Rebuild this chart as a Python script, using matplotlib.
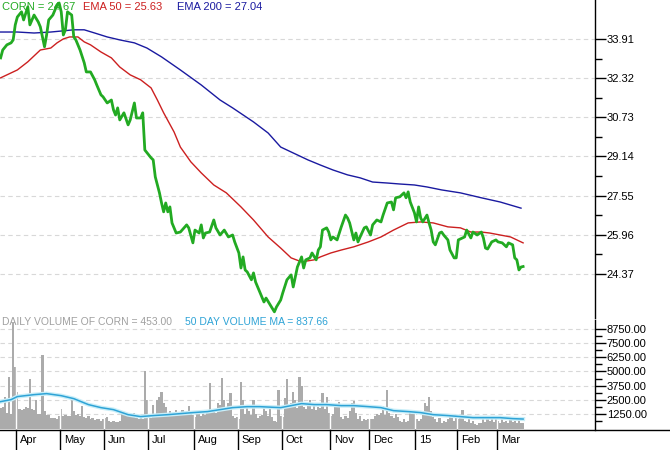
import numpy as np
import pandas as pd
import matplotlib
matplotlib.use('Agg')
import matplotlib.pyplot as plt
import matplotlib.transforms as mtrans
from matplotlib.lines import Line2D

plt.rcParams['font.family'] = ['Liberation Sans', 'DejaVu Sans']

# ---------------- data ----------------
holidays = ['2014-04-18', '2014-05-26', '2014-07-04', '2014-09-01', '2014-11-27',
            '2014-12-25', '2015-01-01', '2015-01-19', '2015-02-16']

price_day = [0, 1, 3, 5, 6, 7, 8, 10, 11, 13, 14, 16, 18, 19, 21, 22, 23, 25, 27, 28, 29, 30, 31, 32,
             34, 35, 36, 38, 40, 41, 43, 45, 46, 48, 49, 51, 53, 54, 55, 56, 57, 59, 61, 62, 64, 65,
             67, 68, 69, 72, 73, 74, 76, 77, 78, 79, 80, 81, 82, 84, 86, 89, 90, 92, 93, 95, 96, 97,
             98, 100, 102, 103, 105, 107, 109, 111, 112, 114, 115, 116, 117, 118, 120, 121, 122, 124,
             126, 127, 129, 131, 132, 134, 135, 137, 139, 140, 142, 144, 145, 146, 148, 149, 151, 152,
             153, 154, 156, 157, 158, 159, 161, 163, 165, 166, 167, 169, 170, 171, 172, 174, 175, 177,
             178, 180, 182, 183, 185, 187, 188, 189, 191, 193, 194, 195, 196, 198, 199, 200, 201, 202,
             204, 205, 206, 207, 208, 210, 211, 212, 214, 215, 217, 218, 219, 222, 223, 225, 226, 228,
             230, 231, 232, 233, 235, 237, 238, 240, 242, 243, 245, 246, 247, 248, 249, 250]
price_close = [33.14, 33.46, 33.67, 33.75, 33.87, 34.48, 34.80, 35.01, 34.68, 35.21, 34.48, 34.88,
               34.60, 34.40, 33.59, 34.07, 34.68, 34.88, 35.29, 35.37, 35.01, 34.07, 34.28, 35.01,
               34.88, 33.99, 33.87, 33.46, 32.94, 32.57, 32.57, 32.25, 32.04, 31.64, 31.56, 31.31,
               31.43, 31.03, 30.82, 31.11, 30.62, 30.91, 30.42, 30.62, 31.31, 30.70, 30.70, 30.91,
               29.40, 29.08, 29.00, 28.31, 27.66, 27.25, 26.89, 27.25, 26.89, 27.09, 26.44, 26.03,
               26.07, 26.36, 26.24, 25.63, 26.15, 26.03, 26.36, 25.83, 26.03, 26.07, 26.56, 26.24,
               25.95, 26.15, 25.87, 25.95, 25.67, 25.22, 24.61, 25.06, 24.53, 24.45, 24.13, 24.41,
               24.04, 23.64, 23.23, 23.39, 23.11, 22.83, 23.03, 23.31, 23.60, 24.13, 24.33, 23.84,
               24.65, 25.06, 24.61, 24.94, 25.02, 25.22, 24.94, 25.34, 25.47, 26.15, 26.24, 26.07,
               25.75, 25.87, 25.75, 26.28, 26.76, 26.64, 26.44, 25.75, 26.03, 25.67, 25.87, 26.24,
               26.28, 25.95, 26.36, 26.56, 26.48, 26.76, 27.25, 27.29, 26.97, 27.46, 27.50, 27.66,
               27.46, 27.70, 27.29, 26.85, 26.48, 27.09, 26.64, 26.48, 26.76, 26.44, 26.15, 25.67,
               25.55, 26.03, 26.07, 25.95, 25.75, 25.34, 25.02, 25.02, 25.75, 25.87, 26.15, 25.83,
               26.07, 25.95, 26.07, 25.83, 25.42, 25.38, 25.67, 25.75, 25.67, 25.63, 25.47, 25.63,
               25.55, 25.02, 24.94, 24.53, 24.65, 24.67]

ema50_day = [0, 8, 13, 19, 24, 27, 30, 33, 37, 40, 43, 48, 53, 57, 62, 67, 72, 75, 78, 83, 86, 91,
             96, 102, 108, 115, 121, 128, 134, 139, 144, 150, 153, 158, 163, 169, 176, 182, 188,
             195, 201, 207, 214, 220, 225, 230, 234, 239, 244, 247, 250]
ema50_val = [32.33, 32.65, 32.98, 33.46, 33.54, 33.75, 33.91, 33.99, 33.99, 33.79, 33.67, 33.38,
             33.14, 32.77, 32.45, 32.25, 31.92, 31.43, 30.91, 30.13, 29.52, 28.92, 28.47, 27.98,
             27.66, 27.09, 26.56, 25.87, 25.42, 25.02, 24.86, 24.94, 25.06, 25.22, 25.34, 25.47,
             25.67, 25.87, 26.15, 26.44, 26.48, 26.44, 26.28, 26.24, 26.07, 26.07, 26.03, 25.95,
             25.87, 25.75, 25.63]

ema200_day = [0, 8, 16, 24, 29, 35, 40, 45, 51, 57, 64, 70, 77, 86, 96, 105, 111, 121, 128, 134,
              139, 144, 147, 153, 159, 166, 172, 178, 185, 191, 198, 204, 211, 220, 230, 239, 249]
ema200_val = [34.19, 34.19, 34.15, 34.19, 34.23, 34.28, 34.28, 34.15, 33.99, 33.87, 33.75, 33.54,
              33.18, 32.65, 32.04, 31.43, 31.11, 30.54, 30.09, 29.52, 29.32, 29.12, 29.00, 28.79,
              28.59, 28.39, 28.27, 28.10, 28.06, 28.02, 27.98, 27.90, 27.78, 27.66, 27.46, 27.29,
              27.04]

volume = [1800, 1900, 2800, 1400, 4500, 1300, 9200, 5400, 3200, 1700,
          1600, 1700, 1900, 1800, 4300, 1700, 1600, 2500, 1300, 1300,
          6400, 1500, 1200, 1200, 900, 900, 950, 850, 1100, 1700,
          1100, 1150, 1100, 1100, 2500, 1500, 1200, 1300, 1100, 2000,
          1000, 900, 1100, 800, 900, 750, 800, 850, 700, 800,
          900, 1000, 650, 600, 700, 550, 600, 700, 1400, 1350,
          1400, 1100, 1000, 1100, 1350, 900, 850, 1000, 800, 5000,
          2500, 1100, 900, 2100, 1000, 2500, 2800, 3200, 2200, 1900,
          1300, 1500, 1100, 1400, 1600, 1200, 1400, 1650, 1300, 1500,
          1950, 1400, 1200, 1000, 1400, 1300, 1100, 1500, 1200, 1400,
          4000, 1600, 1700, 1400, 2250, 2100, 4450, 2500, 1700, 2200,
          3150, 1100, 900, 1000, 800, 4100, 2500, 1300, 1900, 1500,
          1200, 2500, 1300, 900, 1100, 1200, 1900, 1500, 1100, 1700,
          1000, 700, 550, 3400, 1100, 1000, 2700, 4300, 1800, 2200,
          3200, 2500, 1800, 4500, 3700, 1900, 1700, 2000, 2500, 1700,
          1950, 1600, 1900, 1800, 3150, 1700, 2800, 1400, 1100, 1300,
          2100, 2000, 2300, 1000, 800, 1100, 900, 1500, 2200, 2400,
          1400, 800, 1100, 700, 800, 750, 800, 850, 800, 1100,
          1300, 1200, 1350, 1950, 1200, 3400, 1400, 1100, 900, 1300,
          1000, 700, 600, 800, 550, 700, 1350, 1300, 1600, 800,
          700, 800, 1500, 2250, 2000, 2800, 1500, 1000, 800, 600,
          900, 500, 700, 600, 800, 1200, 900, 700, 1100, 800,
          1000, 1650, 700, 600, 800, 500, 700, 400, 300, 500,
          450, 800, 600, 1000, 700, 900, 600, 800, 700, 500,
          800, 600, 700, 500, 800, 600, 700, 500, 750, 500,
          453]

vma_day = [0, 5, 8, 16, 22, 29, 35, 42, 48, 54, 61, 67, 73, 80, 86, 92, 99, 105, 111, 118, 124,
           134, 139, 144, 150, 156, 163, 169, 176, 182, 188, 195, 201, 207, 214, 220, 226, 233,
           239, 245, 250]
vma_val = [2360, 2535, 2800, 2970, 3060, 2880, 2620, 2100, 1835, 1660, 1220, 1050, 1140, 1220,
           1310, 1400, 1490, 1660, 1835, 1920, 1920, 1835, 2010, 2185, 2100, 2100, 2010, 2010,
           1920, 1835, 1570, 1490, 1400, 1220, 1140, 1050, 960, 960, 960, 875, 838]

price_ticks = [24.37, 25.96, 27.55, 29.14, 30.73, 32.32, 33.91]
vol_ticks = [1250, 2500, 3750, 5000, 6250, 7500, 8750]

# ---------------- calendar ----------------
days = pd.bdate_range('2014-03-20', '2015-03-31')
days = days[~days.isin(pd.to_datetime(holidays))][:len(volume)]
month_idx, month_lab = [], []
for i in range(1, len(days)):
    if days[i].month != days[i - 1].month:
        month_idx.append(i)
        month_lab.append('15' if days[i].month == 1 else days[i].strftime('%b'))

# ---------------- figure ----------------
W, H = 670, 450
fig = plt.figure(figsize=(W / 100, H / 100), dpi=100)
ax = fig.add_axes([0, 1 - 318 / H, 595 / W, 318 / H])
axv = fig.add_axes([0, 20 / H, 595 / W, 110 / H])

xlim = (-0.3, 284.4)
for a in (ax, axv):
    a.set_xlim(*xlim)
    a.set_facecolor('white')
    for s in ('left', 'top', 'bottom'):
        a.spines[s].set_visible(False)
    a.spines['right'].set_color('black')
    a.spines['right'].set_linewidth(1)
    a.set_xticks([])
    a.yaxis.tick_right()
    a.tick_params(axis='y', which='major', length=8, width=1, pad=0.5, labelsize=8, colors='black')
    a.tick_params(axis='y', which='minor', length=5, width=1, colors='black')

# price panel
ax.set_ylim(22.58, 35.49)
ax.set_yticks(price_ticks)
ax.set_yticklabels([f'{v:.2f}' for v in price_ticks])
ax.set_yticks([(price_ticks[i] + price_ticks[i + 1]) / 2 for i in range(len(price_ticks) - 1)], minor=True)
for v in price_ticks:
    ax.axhline(v, color='#d8d8d8', lw=0.8, ls=(0, (4, 3)), zorder=0)
ax.plot(ema200_day, ema200_val, color='#1a1aa0', lw=1.0, zorder=2)
ax.plot(ema50_day, ema50_val, color='#cc2020', lw=1.0, zorder=3)
ax.plot(price_day, price_close, color='#22aa22', lw=2.0, zorder=4, solid_joinstyle='round')

# volume panel
axv.set_ylim(-120, (428.6 - 318) * 87.4 * 110 / 112)
axv.set_yticks(vol_ticks)
axv.set_yticklabels([f'{v:.2f}' for v in vol_ticks])
axv.set_yticks([v - 625 for v in vol_ticks], minor=True)
for v in vol_ticks:
    axv.axhline(v, color='#d8d8d8', lw=0.8, ls=(0, (4, 3)), zorder=0)
axv.bar(np.arange(len(volume)), volume, width=1.05, color='#ababab', linewidth=0, zorder=1)
for m in month_idx:
    axv.axvline(m - 0.5, color='white', lw=1.0, zorder=2)
axv.plot(vma_day, vma_val, color='#c9eef8', lw=3.0, zorder=3)
axv.plot(vma_day, vma_val, color='#2ea3d6', lw=1.1, zorder=4)

# bottom axis line and month separators
fig.add_artist(Line2D([0, 1], [20 / H, 20 / H], color='black', lw=1))
trans = mtrans.blended_transform_factory(axv.transData, fig.transFigure)
for m, lab in zip(month_idx, month_lab):
    axv.plot([m - 0.5, m - 0.5], [0, 20 / H], transform=trans, color='black', lw=1, clip_on=False)
    axv.text(m - 0.5 + 4 / 2.09, 10 / H, lab, transform=trans, ha='left', va='center',
             fontsize=8, color='black', clip_on=False)

# legend texts
fig.text(2 / W, 1 - 6.5 / H, 'CORN = 24.67', color='#22aa22', fontsize=8, va='center', ha='left')
fig.text(83 / W, 1 - 6.5 / H, 'EMA 50 = 25.63', color='#cc2020', fontsize=8, va='center', ha='left')
fig.text(177 / W, 1 - 6.5 / H, 'EMA 200 = 27.04', color='#1a1aa0', fontsize=8, va='center', ha='left')
fig.text(2 / W, 1 - 322 / H, 'DAILY VOLUME OF CORN = 453.00', color='#a0a0a0', fontsize=7.5,
         va='center', ha='left')
fig.text(185 / W, 1 - 322 / H, '50 DAY VOLUME MA = 837.66', color='#2ea3d6', fontsize=7.5,
         va='center', ha='left')

fig.savefig('out.png', dpi=100, facecolor='white')
